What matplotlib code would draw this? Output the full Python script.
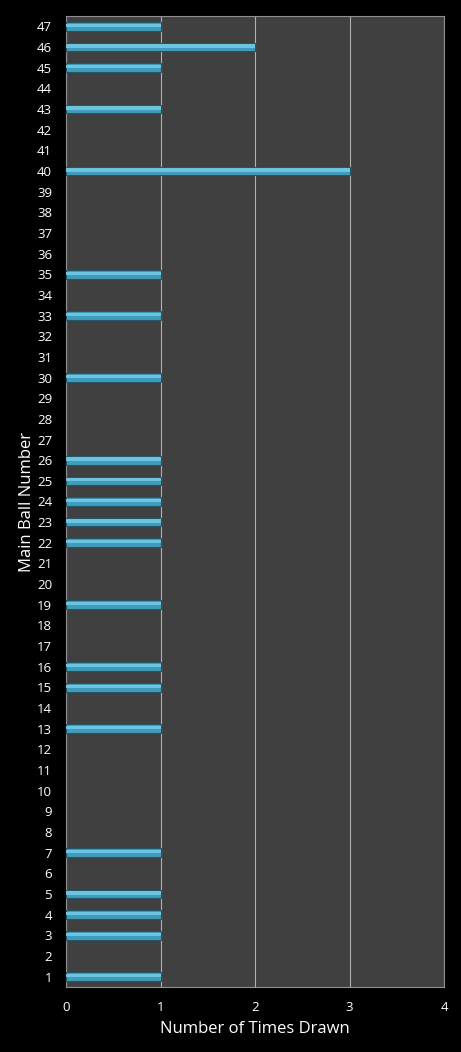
import matplotlib
matplotlib.use("Agg")
import matplotlib.pyplot as plt

plt.rcParams["font.family"] = ["Open Sans", "DejaVu Sans"]

BALLS = list(range(1, 48))
DRAWN = {
    1: 1, 3: 1, 4: 1, 5: 1, 7: 1, 13: 1, 15: 1, 16: 1, 19: 1,
    22: 1, 23: 1, 24: 1, 25: 1, 26: 1, 30: 1, 33: 1, 35: 1,
    40: 3, 43: 1, 45: 1, 46: 2, 47: 1,
}
COUNTS = [DRAWN.get(b, 0) for b in BALLS]
X_TICKS = [0, 1, 2, 3, 4]

# only balls that were drawn get a bar (avoids edge slivers at zero)
bar_y = [b for b, c in zip(BALLS, COUNTS) if c > 0]
bar_w = [c for c in COUNTS if c > 0]

fig = plt.figure(figsize=(4.61, 10.52), dpi=100, facecolor="black")
ax = fig.add_axes([66 / 461, 1 - 987 / 1052, (444 - 66) / 461, (987 - 16) / 1052])
ax.set_facecolor("#404040")

ax.barh(bar_y, bar_w, height=0.42, color="#3f9dbb", edgecolor="#24566a",
        linewidth=0.8, zorder=3)
# lighter highlight strip on top of each bar
ax.barh([y + 0.05 for y in bar_y], bar_w, height=0.16, color="#6cc4e0",
        linewidth=0, zorder=4)

ax.set_xlim(0, 4)
ax.set_ylim(0.5, 47.5)
ax.set_xticks(X_TICKS)
ax.set_yticks(BALLS)
ax.set_yticklabels([str(b) for b in BALLS])
ax.xaxis.grid(True, color="#b0b0b0", linewidth=0.8, zorder=1)
ax.set_axisbelow(True)

for s in ax.spines.values():
    s.set_color("#909090")
    s.set_linewidth(0.8)

ax.tick_params(axis="both", colors="white", length=0, labelsize=9.5)
ax.tick_params(axis="x", pad=10)
ax.tick_params(axis="y", pad=10)

ax.set_xlabel("Number of Times Drawn", color="white", fontsize=12, labelpad=5)
ax.set_ylabel("Main Ball Number", color="white", fontsize=12, labelpad=1)

fig.savefig("out.png", dpi=100, facecolor="black")
